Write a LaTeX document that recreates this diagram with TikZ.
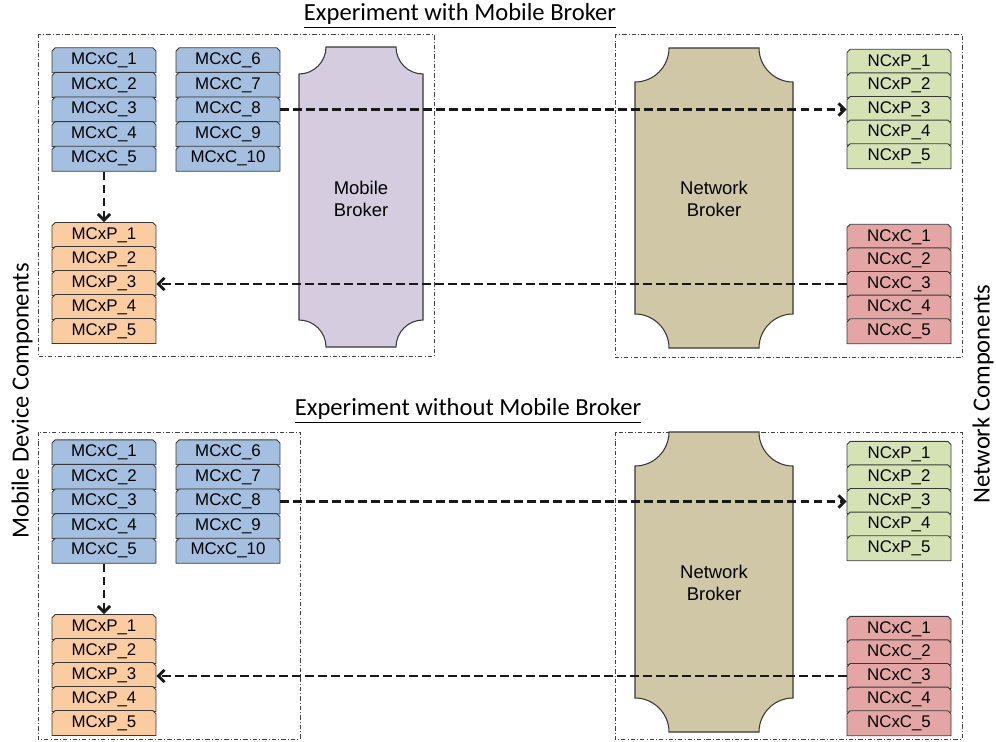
\documentclass[tikz,border=0pt]{standalone}
\usepackage{fontspec}
\setmainfont{Liberation Sans}
\newfontfamily\calfont{Carlito}
\usepackage{tikz}
\usetikzlibrary{shapes.misc, arrows.meta, positioning}
\definecolor{mcblue}{RGB}{164,191,223}
\definecolor{mporange}{RGB}{250,204,160}
\definecolor{npgreen}{RGB}{213,227,180}
\definecolor{ncred}{RGB}{227,166,164}
\definecolor{mbroker}{RGB}{214,204,224}
\definecolor{nbroker}{RGB}{208,199,166}
\definecolor{edge}{RGB}{55,55,55}
% broker outline: x1, x2, y1, y2, corner radius, fill
\newcommand{\broker}[6]{%
  \filldraw[fill=#6, draw=edge, line width=0.6pt]
    (#1,{#3+#5}) -- (#1,{#4-#5})
    .. controls ({#1+0.55*#5},{#4-#5}) and ({#1+#5},{#4-0.55*#5}) .. ({#1+#5},{#4})
    -- ({#2-#5},{#4})
    .. controls ({#2-#5},{#4-0.55*#5}) and ({#2-0.55*#5},{#4-#5}) .. (#2,{#4-#5})
    -- (#2,{#3+#5})
    .. controls ({#2-0.55*#5},{#3+#5}) and ({#2-#5},{#3+0.55*#5}) .. ({#2-#5},{#3})
    -- ({#1+#5},{#3})
    .. controls ({#1+#5},{#3+0.55*#5}) and ({#1+0.55*#5},{#3+#5}) .. (#1,{#3+#5})
    -- cycle;}

\begin{document}
\begin{tikzpicture}[x=0.02cm, y=-0.02cm,
  box/.style={chamfered rectangle, chamfered rectangle corners={north west,north east},
    chamfered rectangle sep=0.9pt, draw=edge, line width=0.5pt, inner sep=0pt,
    minimum width=2.08cm, minimum height=0.5cm, font=\fontsize{9.6}{10}\selectfont},
  brk/.style={align=center, font=\fontsize{10.5}{12.5}\selectfont},
  frame/.style={draw=black!75, line width=0.5pt, dash pattern=on 2.5pt off 1.2pt on 0.5pt off 1.2pt},
  flow/.style={line width=1.6pt, draw=black!90, dash pattern=on 5pt off 2.4pt,
    -{Straight Barb[length=3.5pt,width=7pt]}},
  ttl/.style={font=\calfont\fontsize{14}{16}\selectfont}]
  \useasboundingbox (0,0) rectangle (996,741);
  % dash-dot frames
  \draw[frame] (38,34) rectangle (434,356);
  \draw[frame] (615,34) rectangle (962,357);
  \draw[frame] (38,432) rectangle (300,739);
  \draw[frame] (615,432) rectangle (962,739);
  % titles and side labels
  \node[ttl] (t-title) at (460,16) {\underline{Experiment with Mobile Broker}};
  \node[ttl] (b-title) at (468,411) {\underline{Experiment without Mobile Broker}};
  \node[ttl, rotate=90] (mdc) at (22,401) {Mobile Device Components};
  \node[ttl, rotate=90] (nc) at (983,394) {Network Components};
  % mobile broker, upper experiment only
  \broker{299}{423}{47}{347}{27}{mbroker}
  \node[brk] (t-mb) at (361,199) {Mobile\\Broker};
  % both experiments: prefix / shift of boxes / shift of broker
  \foreach \pre/\dy/\by in {t/0/0, b/392/384}{
    \broker{635}{793}{\by+48}{\by+348}{34}{nbroker}
    \node[brk] (\pre-nb) at (714,\by+199) {Network\\Broker};
    \foreach \i in {1,...,5}{
      \node[box, fill=mcblue] (\pre-mcc\i) at (104,{\dy+48+24.6*(\i-0.5)}) {MCxC\_\i};
      \node[box, fill=mporange] (\pre-mcp\i) at (104,{\dy+223+24*(\i-0.5)}) {MCxP\_\i};
      \node[box, fill=npgreen] (\pre-ncp\i) at (899,{\dy+50+23.6*(\i-0.5)}) {NCxP\_\i};
      \node[box, fill=ncred] (\pre-ncc\i) at (899,{\dy+225+23.6*(\i-0.5)}) {NCxC\_\i};
    }
    \foreach \i in {6,...,10}{
      \node[box, fill=mcblue] (\pre-mcc\i) at (228,{\dy+48+24.6*(\i-5.5)}) {MCxC\_\i};
    }
    % flows
    \draw[flow] (\pre-mcc5.south) -- (\pre-mcp1.north);
    \draw[flow] (\pre-mcc8.east) -- (\pre-mcc8.east -| \pre-ncp3.west);
    \draw[flow] (\pre-ncc3.west) -- (\pre-ncc3.west -| \pre-mcp3.east);
  }
\end{tikzpicture}
\end{document}
